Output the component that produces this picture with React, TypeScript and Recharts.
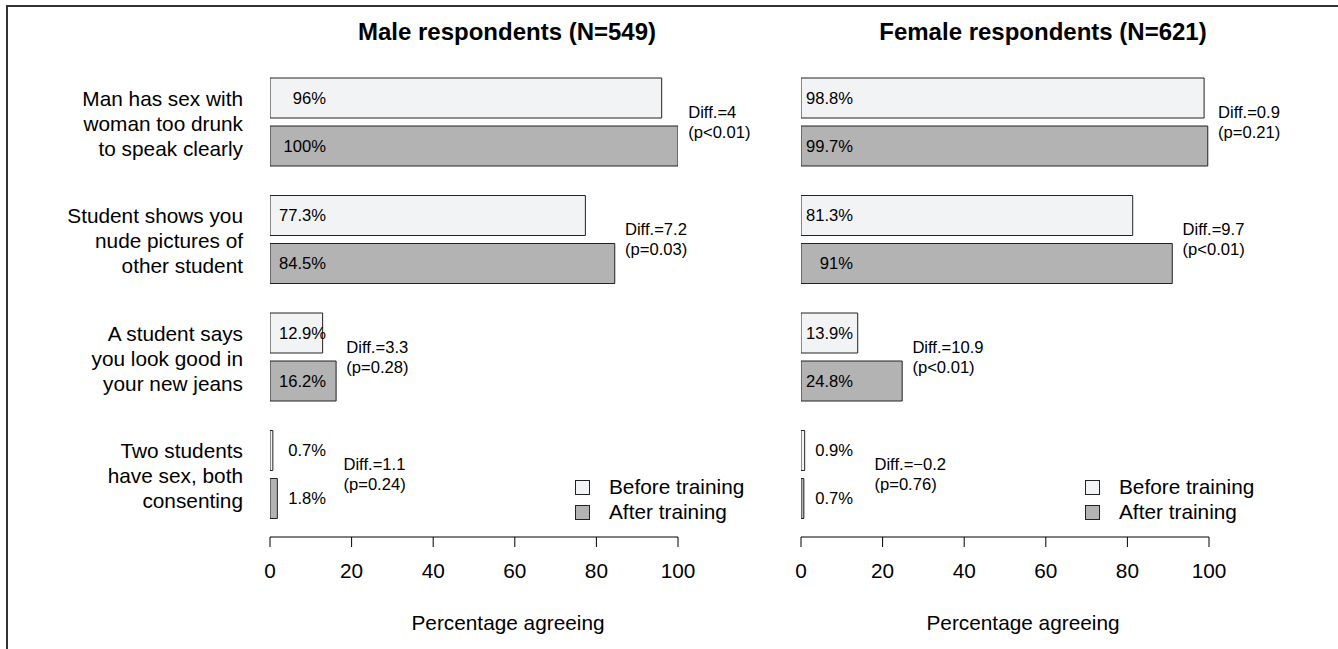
import React from 'react'
import { BarChart, Bar, XAxis, YAxis, Legend, LabelList, ReferenceDot } from 'recharts'

// categories (line breaks as in the figure)
const CATEGORIES = [
  'Man has sex with\nwoman too drunk\nto speak clearly',
  'Student shows you\nnude pictures of\nother student',
  'A student says\nyou look good in\nyour new jeans',
  'Two students\nhave sex, both\nconsenting',
]

const SERIES_NAMES = ['Before training', 'After training']

const MALE_BEFORE = [96, 77.3, 12.9, 0.7]
const MALE_AFTER = [100, 84.5, 16.2, 1.8]
const MALE_DIFF = ['4', '7.2', '3.3', '1.1']
const MALE_P = ['p<0.01', 'p=0.03', 'p=0.28', 'p=0.24']

const FEMALE_BEFORE = [98.8, 81.3, 13.9, 0.9]
const FEMALE_AFTER = [99.7, 91, 24.8, 0.7]
const FEMALE_DIFF = ['0.9', '9.7', '10.9', '\u22120.2']
const FEMALE_P = ['p=0.21', 'p<0.01', 'p<0.01', 'p=0.76']

const X_TICKS = [0, 20, 40, 60, 80, 100]

const FONT = '"Liberation Sans", Arial, Helvetica, sans-serif'
const BEFORE_FILL = '#f2f3f5'
const AFTER_FILL = '#b3b3b3'
const EDGE = '#222'
const H = 649
const PLOT_W = 408
const BASE = 20.8
const SMALL = 16.6

const CatTick = (props: any) => {
  const { x, y, payload } = props
  const lines = String(payload.value).split('\n')
  return (
    <text x={x} y={y} textAnchor="end" fontSize={BASE} fill="#000" dominantBaseline="central">
      {lines.map((ln, i) => (
        <tspan key={i} x={x} y={y + (i - (lines.length - 1) / 2) * 25 + 1}>{ln}</tspan>
      ))}
    </text>
  )
}

const valueLabel = (right: number) => (props: any) => {
  const { x, y, height, value } = props
  return (
    <text x={Number(x) + right} y={Number(y) + Number(height) / 2} textAnchor="end"
      dominantBaseline="central" fontSize={SMALL} fill="#000">{`${value}%`}</text>
  )
}

const diffLabel = (d: string, pv: string) => (props: any) => {
  const vb = props.viewBox || {}
  const cx = vb.x + (vb.width || 0) / 2
  const cy = vb.y + (vb.height || 0) / 2
  return (
    <text fontSize={SMALL} fill="#000" dominantBaseline="central">
      <tspan x={cx} y={cy - 10}>{`Diff.=${d}`}</tspan>
      <tspan x={cx} y={cy + 10}>{`(${pv})`}</tspan>
    </text>
  )
}

const renderLegend = (props: any) => {
  const items = [...(props.payload || [])].sort(
    (a: any, b: any) => SERIES_NAMES.indexOf(a.value) - SERIES_NAMES.indexOf(b.value),
  )
  return (
    <div style={{ fontSize: BASE, color: '#000', fontFamily: FONT }}>
      {items.map((e: any) => (
        <div key={e.value} style={{ display: 'flex', alignItems: 'center', height: 25, whiteSpace: 'nowrap' }}>
          <span style={{
            display: 'inline-block', width: 15, height: 15, boxSizing: 'border-box',
            border: `1px solid ${EDGE}`, background: e.payload?.fill ?? e.color, marginRight: 19,
          }} />
          <span>{e.value}</span>
        </div>
      ))}
    </div>
  )
}

type PanelProps = {
  title: string
  before: number[]
  after: number[]
  diff: string[]
  pval: string[]
  showCats: boolean
  left: number
  width: number
  plotLeft: number
  titleCenter: number
  axisTitleCenter: number
  valueRight: number
  legendLeft: number
}

function Panel(p: PanelProps) {
  const rows = CATEGORIES.map((cat, i) => ({ cat, before: p.before[i], after: p.after[i] }))
  const plotRight = p.width - p.plotLeft - PLOT_W
  const axisTitle = () => (
    <text x={p.axisTitleCenter} y={630} textAnchor="middle" fontSize={BASE} fill="#000">Percentage agreeing</text>
  )
  return (
    <div style={{ position: 'absolute', left: p.left, top: 0, width: p.width, height: H }}>
      <div style={{
        position: 'absolute', left: p.titleCenter - 250, width: 500, top: 18, textAlign: 'center',
        fontWeight: 'bold', fontSize: 24, lineHeight: '28px', color: '#000',
      }}>{p.title}</div>
      <BarChart width={p.width} height={H} data={rows} layout="vertical" barGap={8}
        margin={{ top: 63, right: plotRight, bottom: 0, left: p.showCats ? 0 : p.plotLeft }}>
        <XAxis type="number" domain={[0, 100]} ticks={X_TICKS} allowDataOverflow interval={0}
          height={112} axisLine={{ stroke: '#000' }} tickLine={{ stroke: '#000' }} tickSize={10}
          tickMargin={16} tick={{ fill: '#000', fontSize: BASE }} label={axisTitle} />
        <YAxis type="category" dataKey="cat" hide={!p.showCats} width={p.plotLeft}
          axisLine={false} tickLine={false} tickMargin={21} tick={CatTick}
          padding={{ top: 0, bottom: 4 }} interval={0} />
        <Bar dataKey="before" name={SERIES_NAMES[0]} fill={BEFORE_FILL} stroke={EDGE}
          strokeWidth={1} barSize={40} isAnimationActive={false}>
          <LabelList dataKey="before" content={valueLabel(p.valueRight)} />
        </Bar>
        <Bar dataKey="after" name={SERIES_NAMES[1]} fill={AFTER_FILL} stroke={EDGE}
          strokeWidth={1} barSize={40} isAnimationActive={false}>
          <LabelList dataKey="after" content={valueLabel(p.valueRight)} />
        </Bar>
        {rows.map((r, i) => (
          <ReferenceDot key={r.cat} x={Math.max(Math.max(r.before, r.after) + 2.5, 18)} y={r.cat}
            r={1} fill="none" stroke="none" ifOverflow="visible"
            label={diffLabel(p.diff[i], p.pval[i])} />
        ))}
        <Legend layout="horizontal" verticalAlign="middle" align="center" content={renderLegend}
          wrapperStyle={{ left: p.legendLeft, top: 474.5, width: 'auto', height: 'auto' }} />
      </BarChart>
    </div>
  )
}

export default function App() {
  return (
    <div style={{
      position: 'absolute', left: 0, top: 0, width: 1338, height: H, overflow: 'hidden',
      background: '#fff', fontFamily: FONT,
    }}>
      <div style={{
        position: 'absolute', left: 6, top: 5, width: 1340, height: 700,
        borderTop: '2px solid #333', borderLeft: '2px solid #333',
      }} />
      <Panel title="Male respondents (N=549)" before={MALE_BEFORE} after={MALE_AFTER}
        diff={MALE_DIFF} pval={MALE_P} showCats left={0} width={790} plotLeft={270}
        titleCenter={507} axisTitleCenter={508} valueRight={56} legendLeft={575} />
      <Panel title="Female respondents (N=621)" before={FEMALE_BEFORE} after={FEMALE_AFTER}
        diff={FEMALE_DIFF} pval={FEMALE_P} showCats={false} left={790} width={548} plotLeft={11}
        titleCenter={253} axisTitleCenter={233} valueRight={52} legendLeft={295} />
    </div>
  )
}
